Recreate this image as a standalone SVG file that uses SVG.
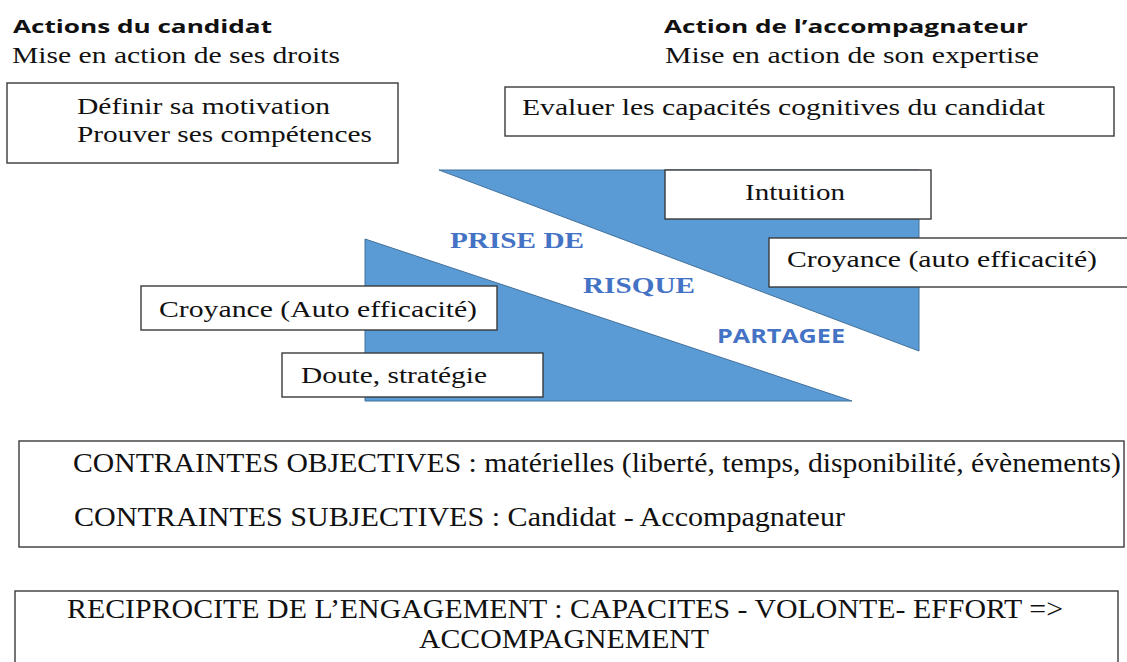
<svg xmlns="http://www.w3.org/2000/svg" width="1127" height="662" viewBox="0 0 1127 662">
<style>
.bg{fill:#ffffff}
.box{fill:#ffffff;stroke:#3a3a3a;stroke-width:1.4}
.tri{fill:#5b9bd5;stroke:#41719c;stroke-width:1}
.hd{font-family:'Open Sans','Liberation Sans',sans-serif;font-weight:700;font-size:18px;fill:#111111}
.sr{font-family:'Liberation Serif','Times New Roman',serif;font-size:24px;fill:#111111}
.lg{font-family:'Liberation Serif','Times New Roman',serif;font-size:27px;fill:#111111}
.bs{font-family:'Liberation Serif','Times New Roman',serif;font-weight:700;font-size:24px;fill:#4472c4}
.bsans{font-family:'Open Sans','Liberation Sans',sans-serif;font-weight:700;font-size:19px;fill:#4472c4}
</style>
<rect class="bg" x="0" y="0" width="1127" height="662"/>

<g id="shapes">
  <polygon class="tri" points="439,170 919,170 919,351"/>
  <polygon class="tri" points="365,239 365,401 852,401"/>
</g>

<g id="connectors"></g>

<g id="header-candidat">
  <text class="hd" x="13" y="33" textLength="259" lengthAdjust="spacingAndGlyphs">Actions du candidat</text>
  <text class="sr" x="12" y="63" textLength="328" lengthAdjust="spacingAndGlyphs">Mise en action de ses droits</text>
</g>

<g id="header-accompagnateur">
  <text class="hd" x="664" y="33" textLength="364" lengthAdjust="spacingAndGlyphs">Action de l’accompagnateur</text>
  <text class="sr" x="665" y="63" textLength="374" lengthAdjust="spacingAndGlyphs">Mise en action de son expertise</text>
</g>

<g id="node-motivation">
  <rect class="box" x="7" y="83" width="391" height="80"/>
  <text class="sr" x="77" y="114" textLength="253" lengthAdjust="spacingAndGlyphs">Définir sa motivation</text>
  <text class="sr" x="77" y="142" textLength="295" lengthAdjust="spacingAndGlyphs">Prouver ses compétences</text>
</g>

<g id="node-evaluer">
  <rect class="box" x="505" y="87" width="609" height="49"/>
  <text class="sr" x="522" y="115" textLength="523" lengthAdjust="spacingAndGlyphs">Evaluer les capacités cognitives du candidat</text>
</g>

<g id="label-prise-risque">
  <text class="bs" x="450" y="248" textLength="134" lengthAdjust="spacingAndGlyphs">PRISE DE</text>
  <text class="bs" x="583" y="293" textLength="112" lengthAdjust="spacingAndGlyphs">RISQUE</text>
  <text class="bsans" x="717" y="343" textLength="128" lengthAdjust="spacingAndGlyphs">PARTAGEE</text>
</g>

<g id="node-intuition">
  <rect class="box" x="665" y="170" width="266" height="49"/>
  <text class="sr" x="745" y="200" textLength="100" lengthAdjust="spacingAndGlyphs">Intuition</text>
</g>

<g id="node-croyance-accompagnateur">
  <rect class="box" x="769" y="238" width="362" height="49"/>
  <text class="sr" x="787" y="267" textLength="310" lengthAdjust="spacingAndGlyphs">Croyance (auto efficacité)</text>
</g>

<g id="node-croyance-candidat">
  <rect class="box" x="141" y="286" width="356" height="44"/>
  <text class="sr" x="159" y="317" textLength="318" lengthAdjust="spacingAndGlyphs">Croyance (Auto efficacité)</text>
</g>

<g id="node-doute">
  <rect class="box" x="282" y="353" width="261" height="44"/>
  <text class="sr" x="301" y="383" textLength="186" lengthAdjust="spacingAndGlyphs">Doute, stratégie</text>
</g>

<g id="node-contraintes">
  <rect class="box" x="19" y="441" width="1105" height="106"/>
  <text class="lg" x="73" y="472" textLength="1048" lengthAdjust="spacingAndGlyphs">CONTRAINTES OBJECTIVES : matérielles (liberté, temps, disponibilité, évènements)</text>
  <text class="lg" x="74" y="526" textLength="771" lengthAdjust="spacingAndGlyphs">CONTRAINTES SUBJECTIVES : Candidat - Accompagnateur</text>
</g>

<g id="node-reciprocite">
  <rect class="box" x="15" y="591" width="1103" height="90"/>
  <text class="lg" x="67" y="618" textLength="996" lengthAdjust="spacingAndGlyphs">RECIPROCITE DE L’ENGAGEMENT : CAPACITES - VOLONTE- EFFORT =&gt;</text>
  <text class="lg" x="419" y="648" textLength="290" lengthAdjust="spacingAndGlyphs">ACCOMPAGNEMENT</text>
</g>
</svg>
